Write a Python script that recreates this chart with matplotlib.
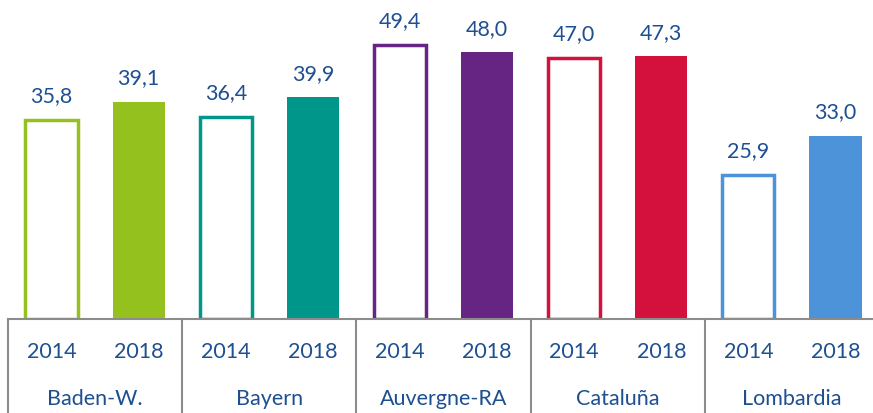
import matplotlib.pyplot as plt
from matplotlib.transforms import blended_transform_factory

regions = ['Baden-W.', 'Bayern', 'Auvergne-RA', 'Cataluña', 'Lombardia']
years = ['2014', '2018']
vals_2014 = [35.8, 36.4, 49.4, 47.0, 25.9]
vals_2018 = [39.1, 39.9, 48.0, 47.3, 33.0]
colors = ['#95C11F', '#00968A', '#662483', '#D4103C', '#4C93DA']

txt = '#1D4F91'
plt.rcParams['font.family'] = ['Lato', 'DejaVu Sans']

fig = plt.figure(figsize=(8.73, 4.14), dpi=100)
ax = fig.add_axes([8 / 873, 94 / 414, 871 / 873, 320 / 414])

bw = 0.6
for i, r in enumerate(regions):
    x0 = 2 * i + 0.5
    x1 = 2 * i + 1.5
    ax.bar(x0, vals_2014[i], width=bw, facecolor='white', edgecolor=colors[i], linewidth=2.5)
    ax.bar(x1, vals_2018[i], width=bw, color=colors[i])
    for x, v in [(x0, vals_2014[i]), (x1, vals_2018[i])]:
        ax.annotate(f'{v:.1f}'.replace('.', ','), (x, v), xytext=(0, 10.5), textcoords='offset points',
                    ha='center', va='bottom', fontsize=15.5, color=txt)

ax.set_xlim(0, 10)
ax.set_ylim(0, 57.6)

# two-level x labels
trans = blended_transform_factory(ax.transData, ax.transAxes)
for i, r in enumerate(regions):
    for j, yr in enumerate(years):
        ax.text(2 * i + 0.5 + j, -32 / 320, yr, transform=trans, ha='center', va='center',
                fontsize=15.5, color=txt)
    ax.text(2 * i + 1, -79 / 320, r, transform=trans, ha='center', va='center',
            fontsize=15.5, color=txt)
for k in range(6):
    ax.plot([2 * k, 2 * k], [0, -100 / 320], transform=trans, color='#8C8C8C',
            linewidth=1.5, clip_on=False)

ax.set_xticks([])
ax.set_yticks([])
for s in ['top', 'right', 'left']:
    ax.spines[s].set_visible(False)
ax.spines['bottom'].set_color('#8C8C8C')
ax.spines['bottom'].set_linewidth(1.5)

fig.savefig('out.png', dpi=100)
